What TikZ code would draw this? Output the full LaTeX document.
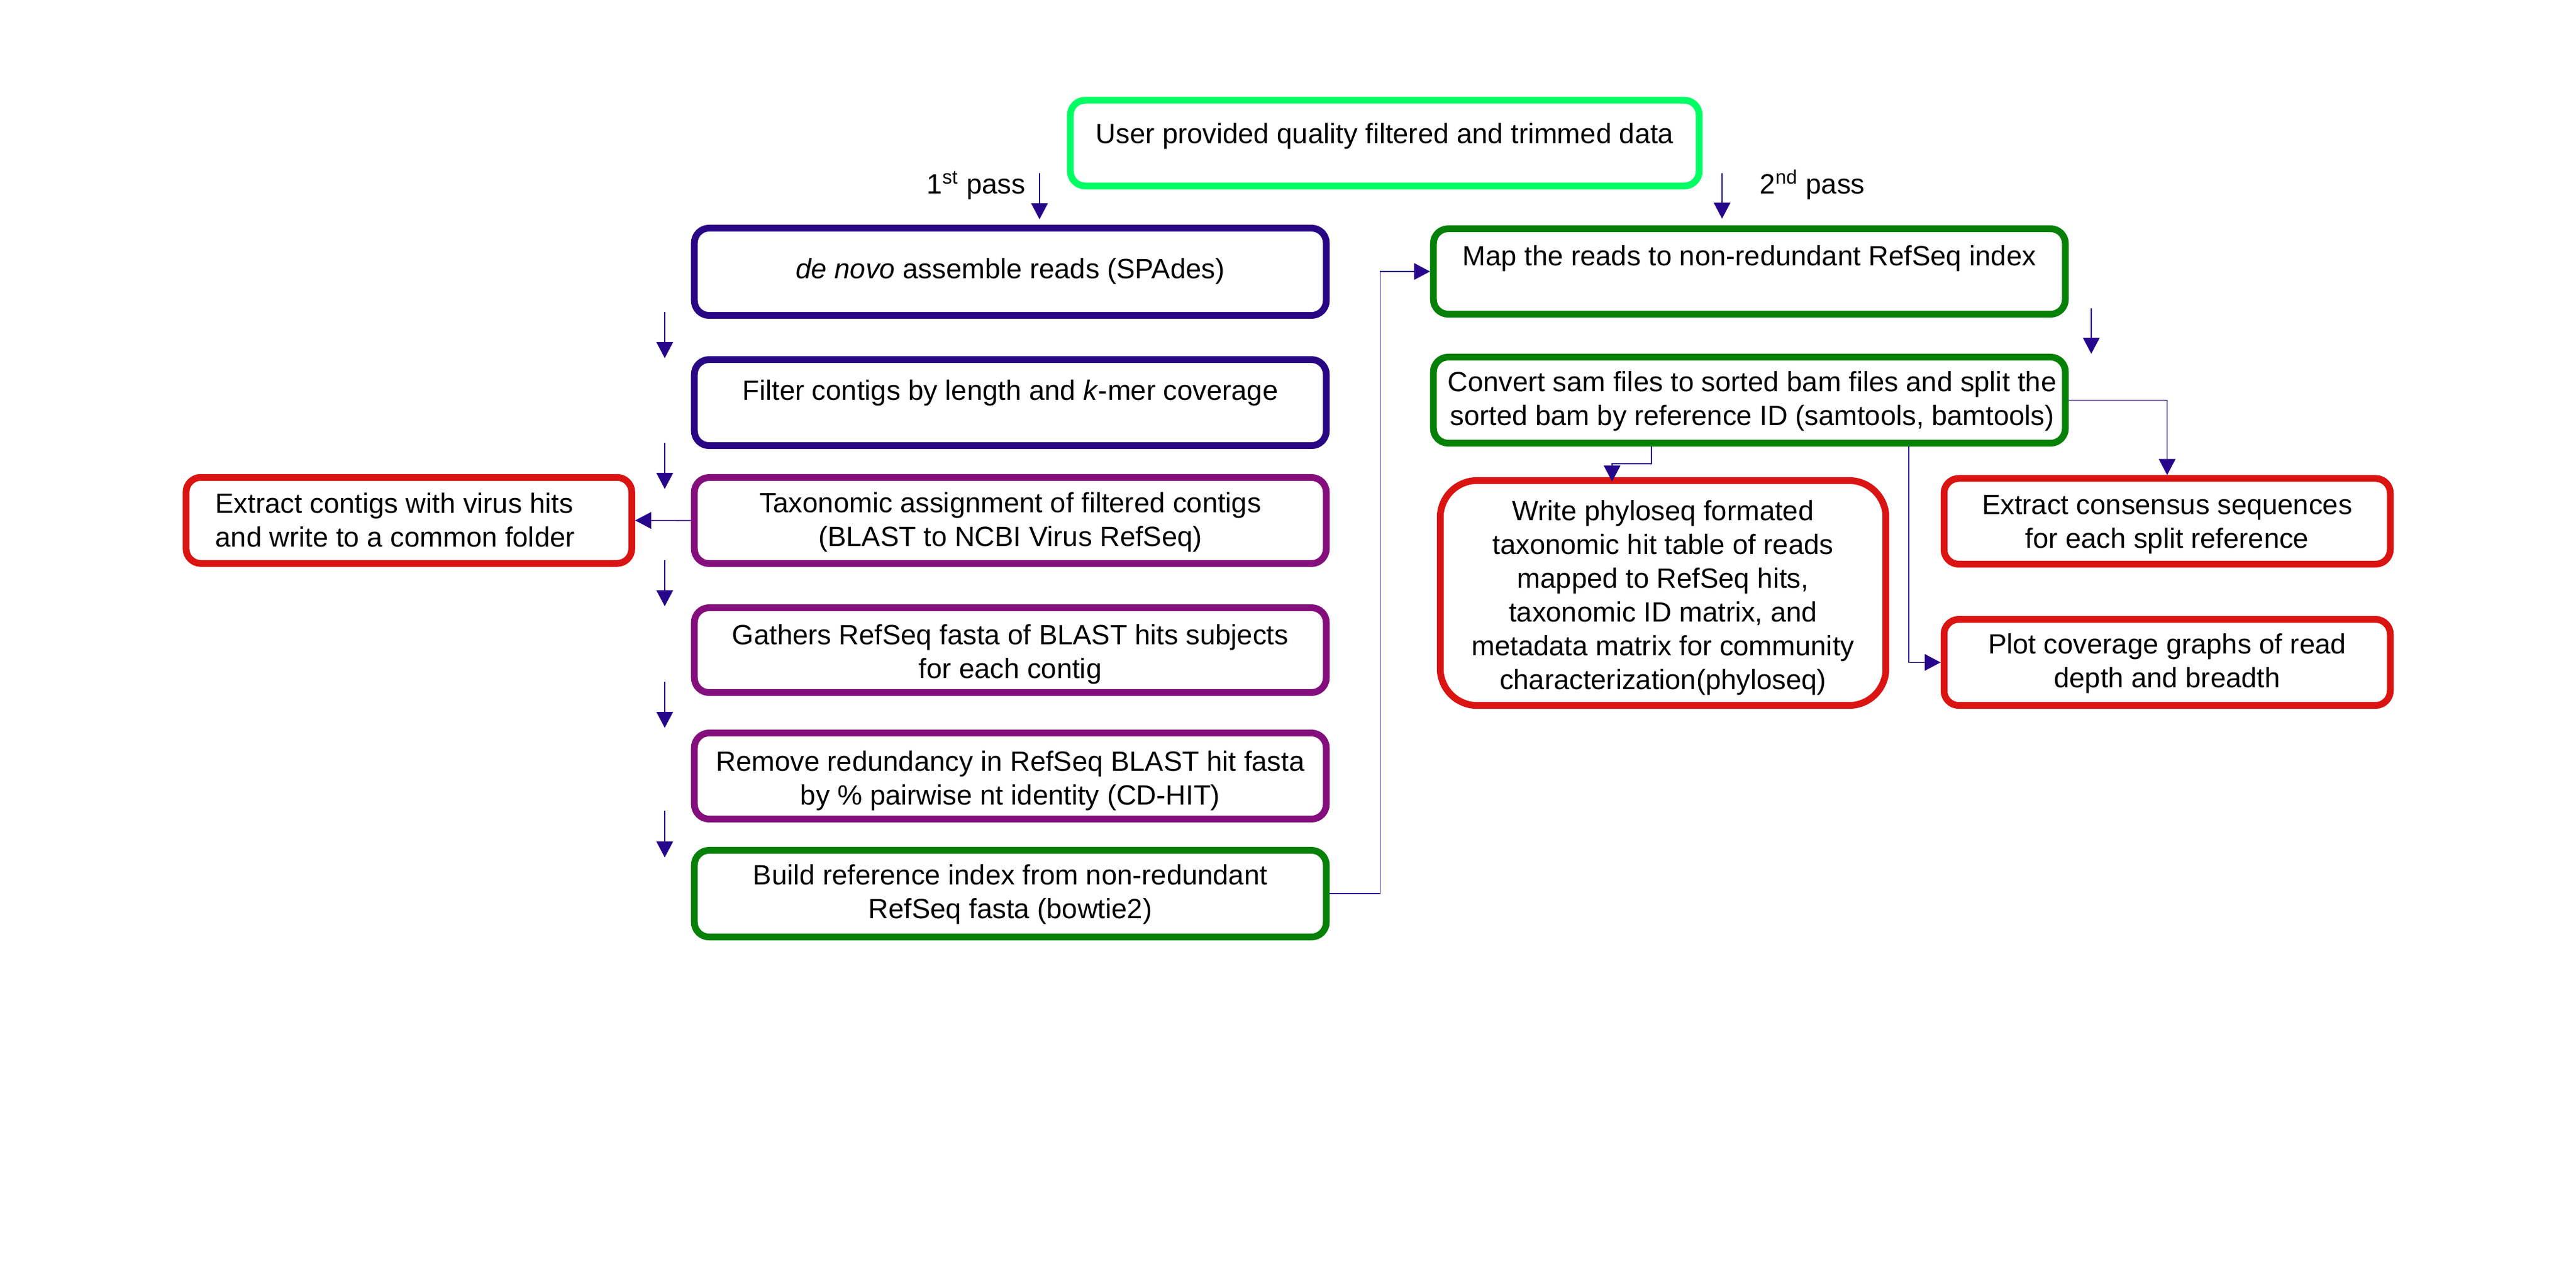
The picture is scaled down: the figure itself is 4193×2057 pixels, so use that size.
\documentclass[tikz,border=0pt]{standalone}
\usepackage{fontspec}
\setmainfont{Liberation Sans}
\usetikzlibrary{arrows.meta}
\definecolor{cTop}{RGB}{0,255,100}
\definecolor{cBlue}{RGB}{40,6,132}
\definecolor{cPurple}{RGB}{132,14,124}
\definecolor{cGreen}{RGB}{6,128,6}
\definecolor{cRed}{RGB}{218,20,18}
\definecolor{cArrow}{RGB}{40,6,140}
\tikzset{
  box/.style={draw, line width=0.11cm, rounded corners=0.24cm, inner sep=0pt, fill=white},
  wide/.style={minimum width=10.28cm, minimum height=1.40cm},
  narrow/.style={minimum width=7.25cm, minimum height=1.40cm},
  txt/.style={font=\fontsize{12.9pt}{15.6pt}\selectfont, inner sep=0pt, align=center, anchor=base},
  conn/.style={draw=cArrow, line width=0.45pt, -{Triangle[length=0.26cm,width=0.27cm]}}
}
\begin{document}
\begin{tikzpicture}[x=0.01cm,y=-0.01cm]
\useasboundingbox (0,0) rectangle (4193,2057);
\fill[white] (0,0) rectangle (4193,2057);

% top box
\node[box, draw=cTop, minimum width=10.23cm, minimum height=1.395cm] (top) at (2254,233) {};
\node[txt] (toptxt) at (2254,233) {User provided quality filtered and trimmed data};
\node[txt, anchor=base west] (pass1) at (1508,315) {1\textsuperscript{st} pass};
\node[txt, anchor=base west] (pass2) at (2864,315) {2\textsuperscript{nd} pass};

% left column (multi-line texts are anchored at the baseline of their last line)
\node[box, draw=cBlue, wide, minimum height=1.42cm] (denovo) at (1644.5,442.5) {};
\node[txt] (denovotxt) at (1644.5,453) {\textit{de novo} assemble reads (SPAdes)};
\node[box, draw=cBlue, wide] (filter) at (1644.5,655.5) {};
\node[txt] (filtertxt) at (1644.5,651.5) {Filter contigs by length and \textit{k}-mer coverage};
\node[box, draw=cPurple, wide] (tax) at (1644.5,847.5) {};
\node[txt] (taxtxt) at (1644.5,889.5) {Taxonomic assignment of filtered contigs\\(BLAST to NCBI Virus RefSeq)};
\node[box, draw=cPurple, wide, minimum height=1.38cm] (gath) at (1644.5,1058.5) {};
\node[txt] (gathtxt) at (1644.5,1104) {Gathers RefSeq fasta of BLAST hits subjects\\for each contig};
\node[box, draw=cPurple, wide] (remove) at (1644.5,1263.5) {};
\node[txt] (removetxt) at (1644.5,1310) {Remove redundancy in RefSeq BLAST hit fasta\\by \% pairwise nt identity (CD-HIT)};
\node[box, draw=cGreen, wide, minimum height=1.41cm] (build) at (1644.5,1455) {};
\node[txt] (buildtxt) at (1644.5,1495) {Build reference index from non-redundant\\RefSeq fasta (bowtie2)};

% extract contigs
\node[box, draw=cRed, narrow] (extract) at (665.6,847.3) {};
\node[txt, anchor=base west, align=left] (extracttxt) at (350,890.6) {Extract contigs with virus hits\\and write to a common folder};

% right column
\node[box, draw=cGreen, wide, minimum height=1.39cm] (map) at (2847.5,442) {};
\node[txt] (maptxt) at (2847.5,432) {Map the reads to non-redundant RefSeq index};
\node[box, draw=cGreen, wide] (convert) at (2847.5,651.5) {};
\node[txt] (converttxt) at (2852,692) {Convert sam files to sorted bam files and split the\\sorted bam by reference ID (samtools, bamtools)};
\node[box, draw=cRed, minimum width=7.25cm, minimum height=3.66cm, rounded corners=0.6cm] (write) at (2707,965.5) {};
\node[txt] (writetxt) at (2707,1122) {Write phyloseq formated\\taxonomic hit table of reads\\mapped to RefSeq hits,\\taxonomic ID matrix, and\\metadata matrix for community\\characterization(phyloseq)};
\node[box, draw=cRed, minimum width=7.26cm, minimum height=1.395cm] (cons) at (3527.5,848.75) {};
\node[txt] (constxt) at (3527.5,892) {Extract consensus sequences\\for each split reference};
\node[box, draw=cRed, minimum width=7.26cm, minimum height=1.40cm] (plot) at (3527.5,1078.5) {};
\node[txt] (plottxt) at (3527.5,1119) {Plot coverage graphs of read\\depth and breadth};

% free arrow end points
\coordinate (p1s) at (1692,282); \coordinate (p1e) at (1692,357);
\coordinate (p2s) at (2803,282); \coordinate (p2e) at (2803,356);
\coordinate (a1s) at (1082,508); \coordinate (a1e) at (1082,583);
\coordinate (a2s) at (1082,721); \coordinate (a2e) at (1082,796);
\coordinate (a3s) at (1082,912); \coordinate (a3e) at (1082,987);
\coordinate (a4s) at (1082,1110); \coordinate (a4e) at (1082,1185);
\coordinate (a5s) at (1082,1320); \coordinate (a5e) at (1082,1396);
\coordinate (m2cs) at (3404,502); \coordinate (m2ce) at (3404,576);
\coordinate (cb1) at (2688,727); \coordinate (wtop) at (2624,784);
\coordinate (cb2) at (3107,727);

\draw[conn] (p1s) -- (p1e);
\draw[conn] (p2s) -- (p2e);
\draw[conn] (a1s) -- (a1e);
\draw[conn] (a2s) -- (a2e);
\draw[conn] (a3s) -- (a3e);
\draw[conn] (a4s) -- (a4e);
\draw[conn] (a5s) -- (a5e);
\draw[conn] (m2cs) -- (m2ce);
\draw[conn] (tax.west) -- (extract.east);
\draw[conn] (build.east) -- ++(82,0) |- (map.west);
\draw[conn] (convert.east) -| (cons.north);
\draw[conn] (cb1) -- ++(0,28) -| (wtop);
\draw[conn] (cb2) |- (plot.west);
\end{tikzpicture}
\end{document}
